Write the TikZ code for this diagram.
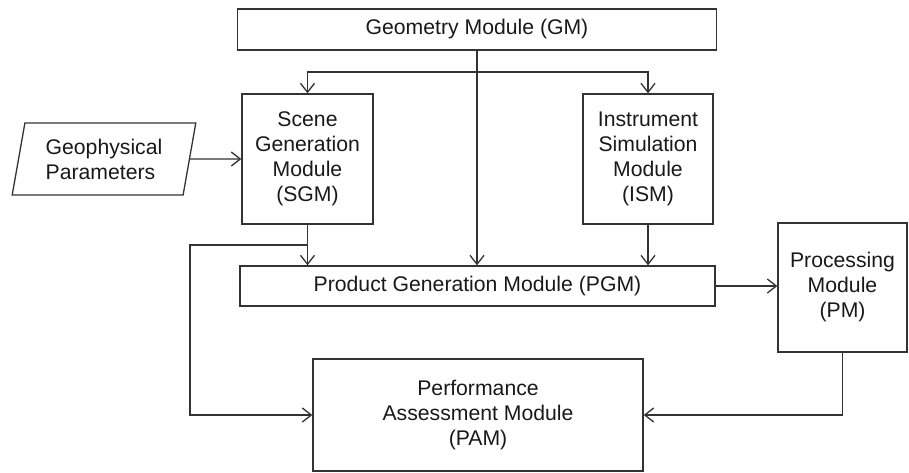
\documentclass[tikz,border=0pt]{standalone}
\usepackage{fontspec}
\setmainfont{Liberation Sans}
\usetikzlibrary{arrows.meta,shapes.geometric}
\definecolor{linegray}{HTML}{333333}
\tikzset{
    module/.style={draw=linegray, line width=1.3pt, align=center, inner sep=0pt,
                   font=\fontsize{21.2}{25}\selectfont, text=black!90},
    arr/.style={draw=linegray, line width=1.3pt, -{Straight Barb[length=9pt,width=14pt]}},
}
\begin{document}
\begin{tikzpicture}[x=1pt, y=-1pt]
                    \useasboundingbox (0,0) rectangle (909,472);

                    \node[module, minimum width=479, minimum height=41] (GM) at (477, 29.5) {Geometry Module (GM)};
                    \node[module, minimum width=131, minimum height=130] (SGM) at (307.5, 159) {Scene\\Generation\\Module\\(SGM)};
                    \node[module, minimum width=130, minimum height=130] (ISM) at (648, 159) {Instrument\\Simulation\\Module\\(ISM)};
                    \node[module, align=left, trapezium, trapezium left angle=77, trapezium right angle=103,
                          trapezium stretches=true, minimum width=184, minimum height=72] (GP) at (104, 159) {Geophysical\\Parameters};
                    \node[module, minimum width=475, minimum height=40] (PGM) at (477.5, 286) {Product Generation Module (PGM)};
                    \node[module, minimum width=129, minimum height=129] (PM) at (842.5, 287.5) {Processing\\Module\\(PM)};
                    \node[module, minimum width=330, minimum height=112] (PAM) at (478, 415) {Performance\\Assessment Module\\(PAM)};

                    \coordinate (GMsplit) at (GM.south |- 0,72);
                    \coordinate (SGMsplit) at (SGM.south |- 0,245);

                    %\draw[gray, dashed] (GM) -- (PAM);

                    \draw[arr] (GM.south) -- (GM.south |- PGM.north);
                    \draw[arr] (GMsplit) -| (SGM.north);
                    \draw[arr] (GMsplit) -| (ISM.north);
                    \draw[arr] (GP) -- (SGM);
                    \draw[arr] (SGM.south) -- (SGM.south |- PGM.north);
                    \draw[arr] (ISM.south) -- (ISM.south |- PGM.north);
                    \draw[arr] (SGMsplit) -- (190,245) |- (PAM.west);
                    \draw[arr] (PGM.east) -- (PGM.east -| PM.west);
                    \draw[arr] (PM.south) |- (PAM.east);

                \end{tikzpicture}
\end{document}
